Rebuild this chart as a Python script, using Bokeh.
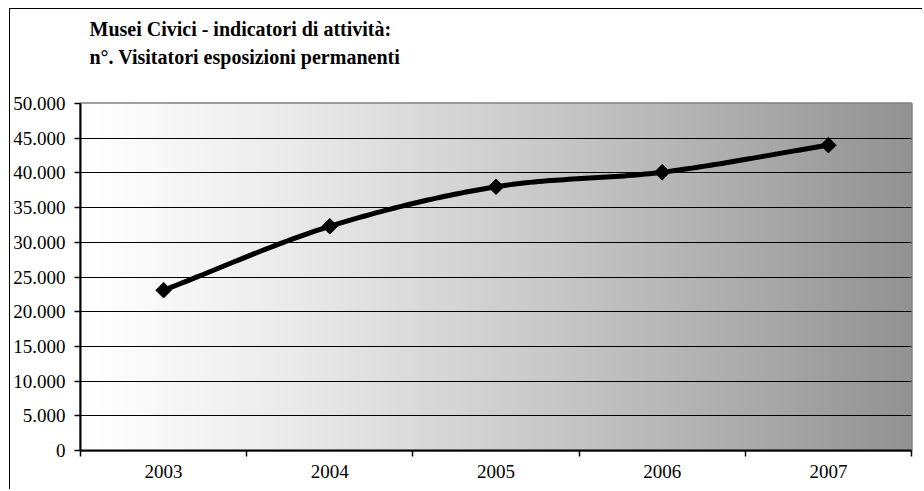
import numpy as np
from bokeh.plotting import figure
from bokeh.models import Range1d, FixedTicker, Title
from bokeh.embed import file_html
from bokeh.resources import INLINE

# ---- data ----
years = ["2003", "2004", "2005", "2006", "2007"]
visitors = [23100, 32300, 38000, 40100, 44000]
y_ticks = [0, 5000, 10000, 15000, 20000, 25000, 30000, 35000, 40000, 45000, 50000]
y_tick_labels = ["0", "5.000", "10.000", "15.000", "20.000", "25.000",
                 "30.000", "35.000", "40.000", "45.000", "50.000"]
title_line1 = "Musei Civici - indicatori di attività:"
title_line2 = "n°. Visitatori esposizioni permanenti"

FONT = "Liberation Serif"

xs = np.arange(len(years), dtype=float)
ys = np.array(visitors, dtype=float)

# Catmull-Rom smoothing (like Excel's smoothed line)
def catmull_rom(x, y, n=40):
    P = np.column_stack([x, y])
    P = np.vstack([2 * P[0] - P[1], P, 2 * P[-1] - P[-2]])
    out = []
    t = np.linspace(0, 1, n)[:, None]
    for i in range(1, len(P) - 2):
        p0, p1, p2, p3 = P[i - 1], P[i], P[i + 1], P[i + 2]
        seg = 0.5 * (2 * p1 + (-p0 + p2) * t + (2 * p0 - 5 * p1 + 4 * p2 - p3) * t ** 2
                     + (-p0 + 3 * p1 - 3 * p2 + p3) * t ** 3)
        out.append(seg if i == 1 else seg[1:])
    arr = np.vstack(out)
    return arr[:, 0], arr[:, 1]

sx, sy = catmull_rom(xs, ys)

p = figure(width=913, height=481, output_backend="svg", toolbar_location=None,
           x_range=Range1d(-0.5, len(years) - 0.5), y_range=Range1d(y_ticks[0], y_ticks[-1]),
           min_border_left=68, min_border_right=12, min_border_top=94, min_border_bottom=40)
p.styles = {"margin-left": "9px", "margin-top": "8px",
            "border-left": "1.5px solid black", "border-top": "1.5px solid black"}

# titles: spacer nearest the frame, then line 2, then line 1
p.add_layout(Title(text=" ", text_font=FONT, text_font_size="10px", standoff=23), "above")
p.add_layout(Title(text=title_line2, align="left", offset=9, text_font=FONT,
                   text_font_size="20px", text_font_style="bold", text_color="black",
                   standoff=0), "above")
p.add_layout(Title(text=title_line1, align="left", offset=9, text_font=FONT,
                   text_font_size="20px", text_font_style="bold", text_color="black",
                   standoff=8), "above")

# gradient background
N = 256
img = np.empty((1, N), dtype=np.uint32)
view = img.view(dtype=np.uint8).reshape((1, N, 4))
f = np.linspace(0, 1, N)
g = (255 - (255 - 0x92) * f ** 1.2).astype(np.uint8)
view[0, :, 0] = g
view[0, :, 1] = g
view[0, :, 2] = g
view[0, :, 3] = 255
p.image_rgba(image=[img], x=-0.5, y=y_ticks[0], dw=len(years), dh=y_ticks[-1] - y_ticks[0],
             level="image")

# line + markers
p.line(sx, sy, line_color="black", line_width=5, line_join="round")
p.scatter(xs, ys, marker="square", size=11, angle=np.pi / 4,
          fill_color="black", line_color="black")

# axes
p.xaxis.ticker = FixedTicker(ticks=list(xs), minor_ticks=list(np.arange(-0.5, len(years), 1.0)))
p.xaxis.major_label_overrides = {i: y for i, y in enumerate(years)}
p.xaxis.major_tick_line_color = None
p.xaxis.minor_tick_in = 0
p.xaxis.minor_tick_out = 6
p.xaxis.minor_tick_line_color = "black"
p.xaxis.minor_tick_line_width = 1.5
p.xaxis.major_label_standoff = 8

p.yaxis.ticker = FixedTicker(ticks=y_ticks, minor_ticks=[])
p.yaxis.major_label_overrides = {t: l for t, l in zip(y_ticks, y_tick_labels)}
p.yaxis.major_tick_in = 0
p.yaxis.major_tick_out = 6
p.yaxis.major_tick_line_width = 1.5
p.yaxis.major_label_standoff = 9

for ax in (p.xaxis, p.yaxis):
    ax.axis_line_color = "black"
    ax.axis_line_width = 2
    ax.major_label_text_font = FONT
    ax.major_label_text_font_size = "19px"
    ax.major_label_text_color = "black"

p.xgrid.grid_line_color = None
p.ygrid.ticker = FixedTicker(ticks=y_ticks)
p.ygrid.grid_line_color = "black"
p.ygrid.grid_line_width = 1

p.outline_line_color = "#808080"
p.outline_line_width = 2.5
p.background_fill_color = "white"
p.border_fill_color = "white"

open("out.html", "w").write(file_html(p, INLINE))
